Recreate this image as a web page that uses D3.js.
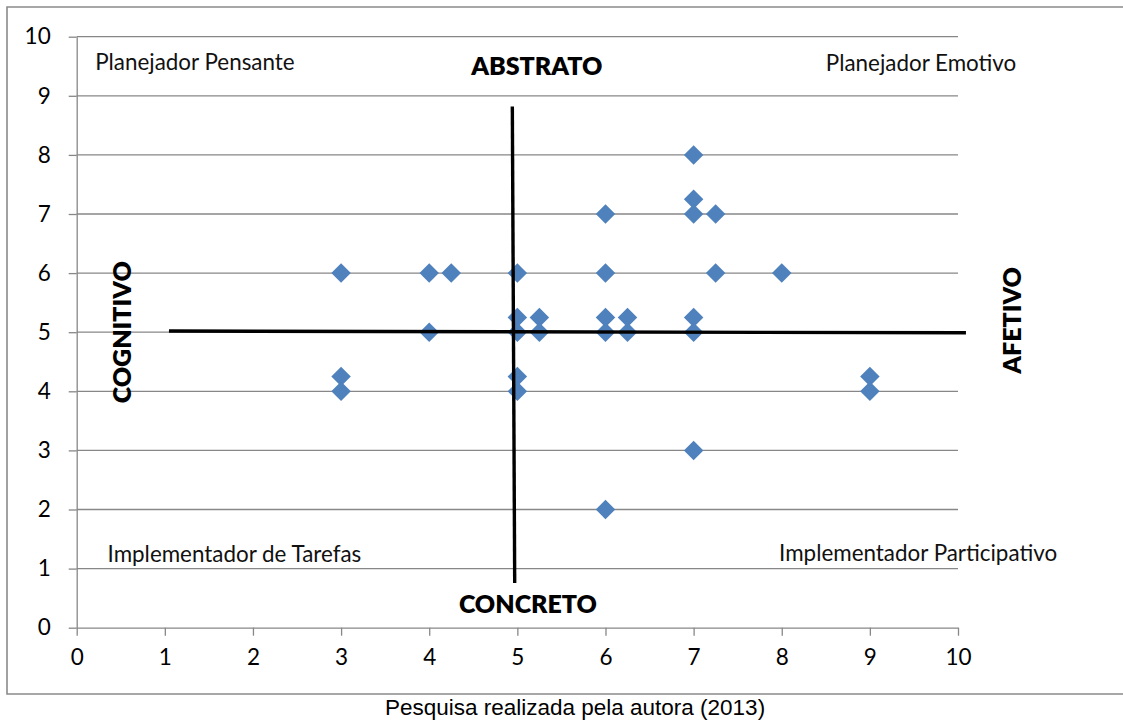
<!DOCTYPE html>
<html>
<head>
<meta charset="utf-8">
<script src="https://cdn.jsdelivr.net/npm/d3@7"></script>
<style>
  html, body { margin: 0; padding: 0; background: #fff; }
  svg { display: block; }
</style>
</head>
<body>
<svg id="chart" width="1123" height="728"></svg>
<script>
// Respondent positions (x = cognitivo→afetivo, y = concreto→abstrato)
const xValues = [3, 4, 4.25, 5, 6, 6, 7, 7, 7, 7.25, 7.25, 8,
                 4, 5, 5, 5.25, 5.25, 6, 6, 6.25, 6.25, 7, 7,
                 3, 3, 5, 5, 9, 9, 7, 6];
const yValues = [6, 6, 6, 6, 7, 6, 8, 7.25, 7, 7, 6, 6,
                 5, 5.25, 5, 5.25, 5, 5.25, 5, 5.25, 5, 5.25, 5,
                 4.25, 4, 4.25, 4, 4.25, 4, 3, 2];

const xTicks = [0, 1, 2, 3, 4, 5, 6, 7, 8, 9, 10];
const yTicks = [0, 1, 2, 3, 4, 5, 6, 7, 8, 9, 10];

// Quadrant dividers, in data units
const dividerH = [[1.047, 5.02], [10.09, 4.99]];
const dividerV = [[4.943, 8.82], [4.97, 0.756]];

// Quadrant names and axis poles: [text, x, y]
const quadrantLabels = [
  ["Planejador Pensante", 0.21, 9.44],
  ["Planejador Emotivo", 8.5, 9.42],
  ["Implementador de Tarefas", 0.35, 1.12],
  ["Implementador Participativo", 7.97, 1.13]
];
const poleLabels = [
  ["ABSTRATO", 5.22, 9.35, 0],
  ["CONCRETO", 5.12, 0.25, 0],
  ["COGNITIVO", 0.54, 5.0, -90],
  ["AFETIVO", 10.64, 5.2, -90]
];
const caption = "Pesquisa realizada pela autora (2013)";

const svg = d3.select("#chart");
const x = d3.scaleLinear().domain([0, 10]).range([76.7, 958]);
const y = d3.scaleLinear().domain([0, 10]).range([627.7, 36.7]);

const gridColor = "#878787";
const font = "Lato, 'Open Sans', sans-serif";

// Outer frame
svg.append("path")
  .attr("d", "M1130,7 H7 V694 H1130")
  .attr("fill", "none")
  .attr("stroke", "#8a8a8a")
  .attr("stroke-width", 1.6);

// Horizontal gridlines
svg.append("g")
  .selectAll("line")
  .data(yTicks.filter(d => d > 0))
  .join("line")
  .attr("x1", x(0)).attr("x2", x(10))
  .attr("y1", d => y(d)).attr("y2", d => y(d))
  .attr("stroke", gridColor).attr("stroke-width", 1.3);

// Y axis
const yAxis = svg.append("g")
  .attr("transform", `translate(${x(0)},0)`)
  .call(d3.axisLeft(y).tickValues(yTicks).tickSize(8).tickSizeOuter(0).tickPadding(18));
yAxis.select(".domain").attr("stroke", gridColor).attr("stroke-width", 1.3);
yAxis.selectAll(".tick line").attr("stroke", gridColor).attr("stroke-width", 1.3);
yAxis.selectAll(".tick text")
  .attr("font-family", font).attr("font-size", 22.5).attr("fill", "#000");

// X axis
const xAxis = svg.append("g")
  .attr("transform", `translate(0,${y(0)})`)
  .call(d3.axisBottom(x).tickValues(xTicks).tickSize(8).tickSizeOuter(0).tickPadding(13));
xAxis.select(".domain").attr("stroke", gridColor).attr("stroke-width", 1.3);
xAxis.selectAll(".tick line").attr("stroke", gridColor).attr("stroke-width", 1.3);
xAxis.selectAll(".tick text")
  .attr("font-family", font).attr("font-size", 22.5).attr("fill", "#000");

// Data points (diamonds)
const points = xValues.map((v, i) => ({ x: v, y: yValues[i] }));
const diamond = d3.symbol().type(d3.symbolSquare).size(190);
svg.append("g")
  .selectAll("path")
  .data(points)
  .join("path")
  .attr("d", diamond)
  .attr("transform", d => `translate(${x(d.x)},${y(d.y)}) rotate(45)`)
  .attr("fill", "#4f81bd");

// Quadrant dividers
const line = d3.line().x(d => x(d[0])).y(d => y(d[1]));
[dividerH, dividerV].forEach(seg => {
  svg.append("path")
    .attr("d", line(seg))
    .attr("fill", "none")
    .attr("stroke", "#000")
    .attr("stroke-width", 3.4);
});

// Quadrant names
svg.append("g")
  .selectAll("text")
  .data(quadrantLabels)
  .join("text")
  .attr("x", d => x(d[1]))
  .attr("y", d => y(d[2]))
  .attr("font-family", font)
  .attr("font-size", 22.4)
  .attr("fill", "#111")
  .text(d => d[0]);

// Axis pole labels
svg.append("g")
  .selectAll("text")
  .data(poleLabels)
  .join("text")
  .attr("transform", d => `translate(${x(d[1])},${y(d[2])}) rotate(${d[3]})`)
  .attr("text-anchor", "middle")
  .attr("dominant-baseline", d => d[3] ? "middle" : "alphabetic")
  .attr("font-family", font)
  .attr("font-weight", 800)
  .attr("font-size", 25)
  .attr("fill", "#000")
  .text(d => d[0]);

// Source caption
svg.append("text")
  .attr("x", 575)
  .attr("y", 715)
  .attr("text-anchor", "middle")
  .attr("font-family", "'Liberation Sans', Arial, sans-serif")
  .attr("font-size", 22.5)
  .attr("fill", "#000")
  .text(caption);
</script>
</body>
</html>
